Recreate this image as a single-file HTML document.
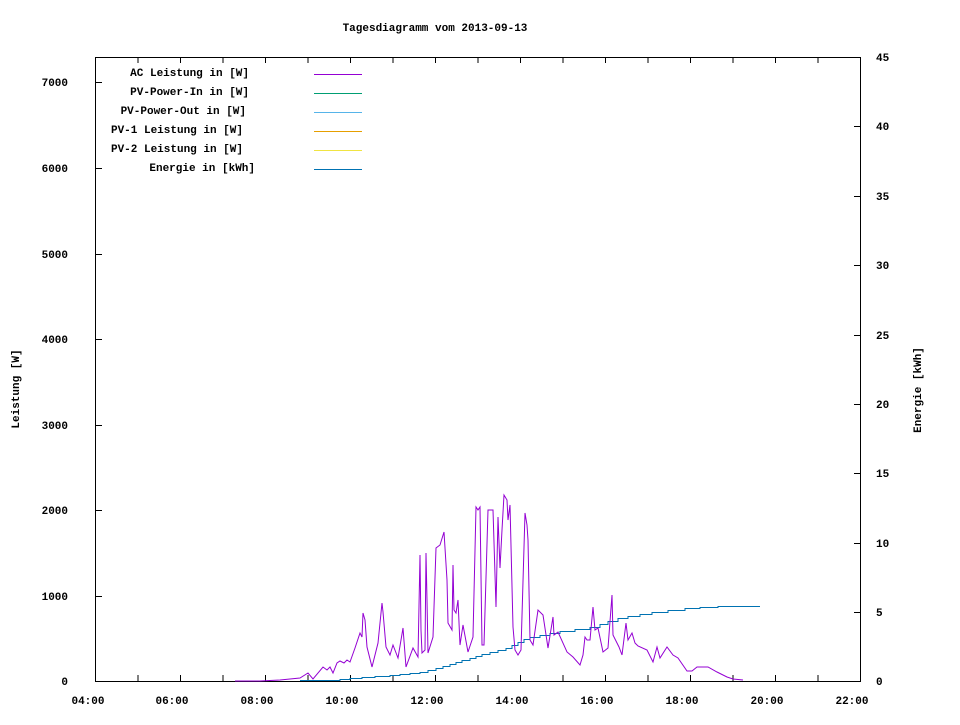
<!DOCTYPE html>
<html><head><meta charset="utf-8"><style>
body{margin:0;background:#fff}
svg text{font-family:"Liberation Mono",monospace;font-size:11px;font-weight:bold;fill:#000}
</style></head><body>
<svg width="960" height="720" xmlns="http://www.w3.org/2000/svg">
<rect width="960" height="720" fill="#fff"/>
<text x="435" y="31" text-anchor="middle">Tagesdiagramm vom 2013-09-13</text>
<rect x="95.5" y="57.5" width="765" height="624" fill="none" stroke="#000" stroke-width="1"/>
<g stroke="#000" stroke-width="1">
<path d="M95.5 681v-6M138 681v-6M180.5 681v-6M223 681v-6M265.5 681v-6M308 681v-6M350.5 681v-6M393 681v-6M435.5 681v-6M478 681v-6M520.5 681v-6M563 681v-6M605.5 681v-6M648 681v-6M690.5 681v-6M733 681v-6M775.5 681v-6M818 681v-6M860.5 681v-6
M95.5 57v6M138 57v6M180.5 57v6M223 57v6M265.5 57v6M308 57v6M350.5 57v6M393 57v6M435.5 57v6M478 57v6M520.5 57v6M563 57v6M605.5 57v6M648 57v6M690.5 57v6M733 57v6M775.5 57v6M818 57v6M860.5 57v6"/>
<path d="M95 681.5h7M95 596.5h7M95 510.5h7M95 425.5h7M95 339.5h7M95 254.5h7M95 168.5h7M95 82.5h7"/>
<path d="M861 681.5h-7M861 612.5h-7M861 543.5h-7M861 473.5h-7M861 404.5h-7M861 335.5h-7M861 265.5h-7M861 196.5h-7M861 126.5h-7M861 57.5h-7"/>
</g>
<g text-anchor="end">
<text x="68" y="685">0</text><text x="68" y="600">1000</text><text x="68" y="514">2000</text>
<text x="68" y="429">3000</text><text x="68" y="343">4000</text><text x="68" y="258">5000</text>
<text x="68" y="172">6000</text><text x="68" y="86">7000</text>
</g>
<g>
<text x="876" y="685">0</text><text x="876" y="616">5</text><text x="876" y="547">10</text>
<text x="876" y="477">15</text><text x="876" y="408">20</text><text x="876" y="339">25</text>
<text x="876" y="269">30</text><text x="876" y="200">35</text><text x="876" y="130">40</text>
<text x="876" y="61">45</text>
</g>
<g text-anchor="middle">
<text x="88" y="704">04:00</text><text x="172" y="704">06:00</text><text x="257" y="704">08:00</text>
<text x="342" y="704">10:00</text><text x="427" y="704">12:00</text><text x="512" y="704">14:00</text>
<text x="597" y="704">16:00</text><text x="682" y="704">18:00</text><text x="767" y="704">20:00</text>
<text x="852" y="704">22:00</text>
</g>
<text transform="translate(19,389) rotate(-90)" text-anchor="middle">Leistung [W]</text>
<text transform="translate(921,390) rotate(-90)" text-anchor="middle">Energie [kWh]</text>
<g text-anchor="end">
<text x="249" y="76">AC Leistung in [W]</text>
<text x="249" y="95">PV-Power-In in [W]</text>
<text x="246" y="114">PV-Power-Out in [W]</text>
<text x="243" y="133">PV-1 Leistung in [W]</text>
<text x="243" y="152">PV-2 Leistung in [W]</text>
<text x="255" y="171">Energie in [kWh]</text>
</g>
<path d="M314 74.5h48" stroke="#9400d3"/>
<path d="M314 93.5h48" stroke="#009e73"/>
<path d="M314 112.5h48" stroke="#56b4e9"/>
<path d="M314 131.5h48" stroke="#e69f00"/>
<path d="M314 150.5h48" stroke="#f0e442"/>
<path d="M314 169.5h48" stroke="#0072b2"/>
<polyline fill="none" stroke="#0072b2" stroke-width="1" points="300,680.5 340,680.5 340,679.5 350,679.5 350,678.5 362,678.5 362,677.5 375,677.5 375,676.5 390,676.5 390,675.5 400,675.5 400,674.5 410,674.5 410,673.5 420,673.5 420,672.5 428,672.5 428,670.5 436,670.5 436,668.5 443,668.5 443,666.5 450,666.5 450,664.5 456,664.5 456,662.5 462,662.5 462,660.5 470,660.5 470,658.5 476,658.5 476,656.5 482,656.5 482,654.5 490,654.5 490,652.5 498,652.5 498,650.5 506,650.5 506,648.5 512,648.5 512,645.5 518,645.5 518,642.5 524,642.5 524,639.5 530,639.5 530,637.5 540,637.5 540,635.5 550,635.5 550,633.5 560,633.5 560,631.5 575,631.5 575,629.5 590,629.5 590,627.5 600,627.5 600,624.5 608,624.5 608,621.5 618,621.5 618,618.5 628,618.5 628,616.5 640,616.5 640,614.5 652,614.5 652,612.5 668,612.5 668,610.5 685,610.5 685,608.5 700,608.5 700,607.5 718,607.5 718,606.5 760,606.5"/>
<polyline fill="none" stroke="#9400d3" stroke-width="1" points="235,681 260,681 280,680 290,679 300,678 308,673 313,679 323,667 327,670 330,667 333,673 337,663 340,661 344,663 347,660 350,662 355,648 360,633 362,637 363,613 365,620 367,647 372,667 378,643 382,603 383,612 386,647 390,655 393,645 398,658 403,628 406,667 413,648 418,657 420,555 421,630 422,653 425,650 426,553 427,600 428,653 433,637 436,548 440,545 444,532 447,580 448,623 452,630 453,565 454,610 456,613 458,600 460,645 463,625 468,652 473,637 476,507 478,510 480,507 482,645 484,645 488,510 493,510 496,607 498,517 500,568 502,530 504,495 507,500 508,520 510,505 513,627 515,650 518,655 521,650 525,513 527,525 528,540 530,640 533,645 538,610 543,615 548,648 553,617 554,635 558,632 567,652 573,657 580,665 583,655 585,637 587,640 590,640 593,607 595,630 598,628 603,652 608,648 612,595 613,635 619,647 622,655 626,623 628,640 632,633 635,643 638,646 647,650 653,662 657,647 660,658 667,647 673,655 678,658 687,671 692,671 697,667 708,667 717,672 727,677 733,679 743,680"/>
</svg>
</body></html>
